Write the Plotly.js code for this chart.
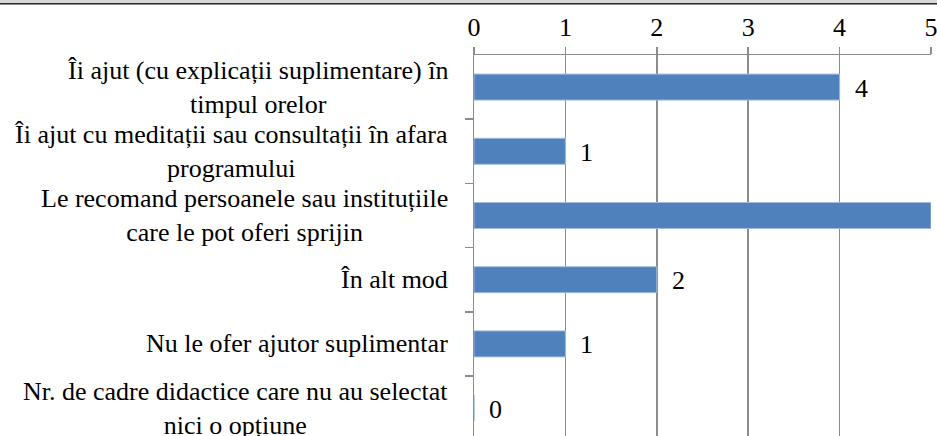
<!DOCTYPE html>
<html>
<head>
<meta charset="utf-8">
<script src="https://cdn.plot.ly/plotly-3.0.1.min.js"></script>
<style>
  html, body { margin: 0; padding: 0; background: #fff; overflow: hidden; }
  #chart { width: 937px; height: 436px; position: relative; }
  #topband { position: absolute; left: 0; top: 0; width: 937px; height: 3px;
             background: #d8d8d8; border-bottom: 1px solid #2a2a2a; box-shadow: 0 1px 0 #8a8a8a; z-index: 10; }
  #status { position: absolute; left: 2px; top: 292px; font: 12px monospace; color: #fff; z-index: 20; white-space: pre; }
</style>
</head>
<body>
<div id="chart"></div>
<div id="topband"></div>
<div id="status"></div>
<script>
const categories = [
  "Îi ajut (cu explicații suplimentare) în<br>timpul orelor",
  "Îi ajut cu meditații sau consultații în afara<br>programului",
  "Le recomand persoanele sau instituțiile<br>care le pot oferi sprijin",
  "În alt mod",
  "Nu le ofer ajutor suplimentar",
  "Nr. de cadre didactice care nu au selectat<br>nici o opțiune"
];
const values = [4, 1, 5, 2, 1, 0];
const xTickVals = [0, 1, 2, 3, 4, 5];
const xTickText = ["0", "1", "2", "3", "4", "5"];

const FONT = "Liberation Serif";
const catIdx = categories.map((c, i) => i);
const X_MAX = 5;

const trace = {
  type: "bar", orientation: "h", x: values, y: catIdx,
  marker: { color: "#4F81BD", line: { color: "#A3BCDD", width: 1 } },
  hoverinfo: "none"
};

const annotations = [];
categories.forEach((c, i) => {
  annotations.push({
    xref: "paper", yref: "y", x: 0, y: i,
    text: c, showarrow: false, xanchor: "right", yanchor: "middle",
    align: "center", xshift: -24,
    font: { family: FONT, size: 26, color: "#000" }
  });
});
values.forEach((v, i) => {
  if (v >= X_MAX) return; // label would fall beyond the right edge, as in the reference
  annotations.push({
    xref: "x", yref: "y", x: v, y: i,
    text: String(v), showarrow: false, xanchor: "left", yanchor: "middle",
    xshift: 13, yshift: -1,
    font: { family: FONT, size: 26, color: "#000" }
  });
});

const layout = {
  width: 937, height: 436,
  margin: { l: 474, r: 6, t: 55, b: 0, pad: 0 },
  showlegend: false, bargap: 0.595,
  xaxis: {
    side: "top", range: [0, X_MAX], tickvals: xTickVals, ticktext: xTickText,
    showgrid: true, gridcolor: "#8c8c8c", gridwidth: 1.5,
    showline: true, linecolor: "#8c8c8c", linewidth: 1.5,
    ticks: "outside", ticklen: 7, tickcolor: "#8c8c8c", tickwidth: 1.5,
    zeroline: false, ticklabeloverflow: "allow",
    tickfont: { family: FONT, size: 26, color: "#000" }
  },
  yaxis: {
    range: [5.435, -0.5], tickvals: [0.5, 1.5, 2.5, 3.5, 4.5], showticklabels: false,
    showgrid: false, zeroline: false, showline: true, linecolor: "#8c8c8c", linewidth: 1.5,
    ticks: "outside", ticklen: 8, tickcolor: "#8c8c8c", tickwidth: 1.5
  },
  annotations: annotations
};

Plotly.newPlot("chart", [trace], layout, { staticPlot: true, displayModeBar: false }).then(() => {
  const t = document.querySelector(".annotation-text");
  const x = document.querySelector(".xtick text");
  const info = (t ? getComputedStyle(t).fontFamily : "") + " " + (x ? getComputedStyle(x).fontFamily : "");
  document.getElementById("status").textContent = "ready " + Plotly.version + " " + info.length;
}).catch(e => { document.getElementById("status").textContent = "ERR"; });
</script>
</body>
</html>
